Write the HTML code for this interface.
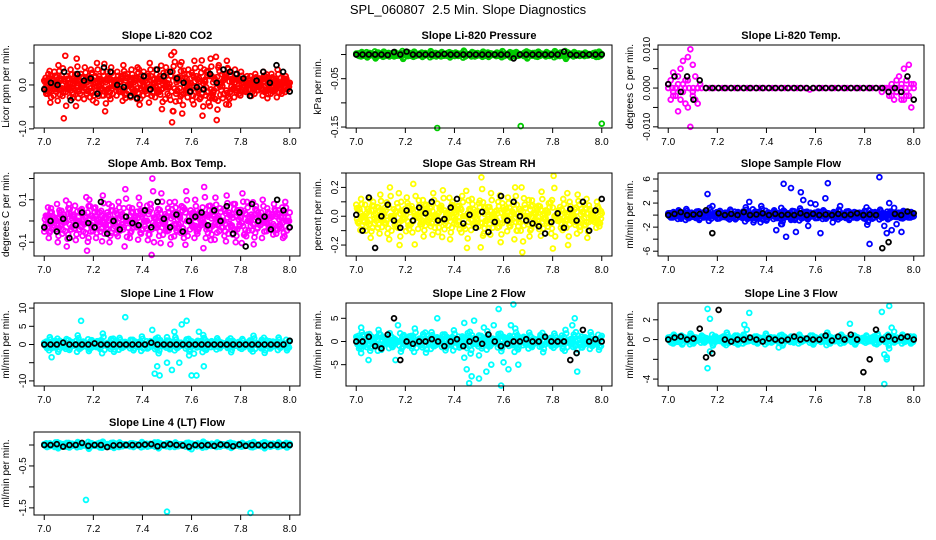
<!DOCTYPE html>
<html><head><meta charset="utf-8"><style>
body{margin:0;background:#fff}
svg{display:block;font-family:"Liberation Sans",sans-serif}
</style></head><body>
<svg id="c" width="936" height="540" viewBox="0 0 936 540">
<text x="468" y="14" text-anchor="middle" font-size="13" style="white-space:pre">SPL_060807  2.5 Min. Slope Diagnostics</text>
</svg>
<script>
// ---- data (main series evenly spaced over 7.0-8.0; extra = explicit x/y; black = evenly spaced) ----
const xTicks=[7.0,7.2,7.4,7.6,7.8,8.0];
const xTickLabels=["7.0","7.2","7.4","7.6","7.8","8.0"];
// CO2 (x0.01)
const co2Main=[10,-20,25,-40,5,30,-10,45,15,-25,95,20,-5,35,-30,10,60,-15,25,0,40,-20,15,35,-35,5,50,20,-10,30,-60,15,-25,40,10,-5,30,-15,20,45,-30,25,0,35,-20,15,40,-45,10,30,-10,25,50,-25,5,35,-15,20,-55,10,40,-5,30,-85,75,-20,15,45,-65,25,-10,35,5,-35,55,20,-15,40,-70,10,30,-40,60,-25,15,-80,45,5,-30,25,55,-45,20,-10,35,15,-20,30,5,-15,20,0,-25,10,25,-5,15,-10,30,20,-30,5,25,-15,10,35,0,-20,15,20,-10,5];
const co2Black=[-10,5,0,30,-35,25,10,15,-20,40,30,0,-5,-25,-30,20,-10,35,20,30,15,5,-15,-5,-10,25,5,35,30,25,15,-25,10,30,5,45,30,-15];
// Pressure (x0.001)
const presMain=[2,-3,5,0,-6,3,1,-8,4,-2,6,0,-4,2,5,-1,3,-9,1,4,-3,6,0,2,-5,3,-1,7,2,-4,0,5,-2,3,-6,1,4,-3,2,8,-1,0,5,-4,3,-2,6,1,-5,2,0,4,-3,7,-1,2,-6,3,5,-2,0,4,-8,1,3,-4,6,2,-1,5,-3,0,7,-2,4,1,-9,3,-1,5,2,-3,1,4,-2,0,3,-5,6,1];
const presExtraX=[7.33,7.67,8.0];
const presExtraY=[-152,-148,-143];
const presBlack=[0,0,0,0,0,-1,5,0,6,0,0,0,0,0,1,0,0,0,0,0,0,0,0,0,0,-8,0,0,0,0,0,0,0,6,0,-1,0,0,0,0];
// Temp (x0.001)
const tempMain=[0,0,0,0,0,0,0,0,0,0,0,0,0,0,0,0,0,0,0,0,0,0,0,0,0,0,0,0,0,0,0,0,0,0,-0.4,0,0,0,0,0,0,0,0,0,0,0,0,0,0,0,0,0,0,0,0,0,0,0,0,0];
const tempExtraX=[7.0,7.01,7.01,7.02,7.02,7.03,7.03,7.04,7.04,7.05,7.05,7.06,7.06,7.07,7.07,7.08,7.08,7.09,7.09,7.1,7.1,7.11,7.11,7.12,7.12,7.13,7.02,7.04,7.06,7.08,7.1,7.12,7.87,7.89,7.9,7.91,7.92,7.93,7.93,7.94,7.95,7.95,7.96,7.96,7.97,7.97,7.98,7.98,7.99,7.99,8.0,7.91,7.93,7.95,7.97];
const tempExtraY=[1,-3,2,-1,4,0,-2,3,-6,5,-3,1,7,-4,2,8,-5,10,-10,6,-2,-3,3,0,-4,1,-2,1,-1,2,-1,0,-1,0,-2,1,-3,2,-1,3,-2,1,-3,5,-1,2,-2,6,-5,1,1,-2,-1,-3,-2];
const tempBlack=[1,3,-1,3,-3,2,0,0,0,0,0,0,0,0,0,0,0,0,0,0,0,0,0,0,0,0,0,0,0,0,0,0,0,0,0,-1,0,-1,3,-3];
// Amb box temp (x0.01)
const ambMain=[-5,2,-8,6,-3,0,-10,4,-6,1,-12,8,-4,3,-9,0,5,-7,2,-14,10,-3,6,-8,1,-5,12,-2,4,-10,7,-1,-6,9,3,-4,15,0,-8,6,2,-3,11,-6,5,0,-9,8,20,-2,4,-7,13,1,-4,6,-11,3,9,-5,2,7,-8,14,0,5,-3,10,-6,4,1,16,-4,7,-9,3,11,-2,6,0,-7,12,4,-3,8,-10,5,2,13,-6,9,0,3,-11,7,4,-2,10,1,6,-4,3,8,-6,5,2,-8,9,0,4];
const ambBlack=[-3,0,-5,1,-8,-2,4,-1,-3,9,-6,0,-4,2,-1,-2,5,-3,9,1,-3,3,-5,0,2,4,-2,5,0,7,-6,4,-12,8,0,2,-4,10,5,-3];
// RH (x0.01)
const rhMain=[8,-5,12,0,-10,5,-15,10,2,-8,15,-3,6,-12,20,0,-6,9,-20,4,-2,13,-9,7,-28,1,11,-4,-14,8,3,-7,16,-1,-11,6,18,-5,2,-16,10,-3,7,-9,14,0,-22,5,12,-6,-2,9,27,-12,4,-8,16,1,-4,10,-18,6,-1,13,-7,3,20,-10,5,-25,8,0,-14,11,-3,6,-9,17,2,-5,9,-12,28,0,4,-8,12,-3,-20,7,1,-6,15,-10,3,8,-15,5,0,-4,10,-7,2];
const rhBlack=[1,-10,13,-22,0,8,-3,-8,4,-3,6,2,10,-3,-2,6,12,-5,1,-8,3,-11,-4,14,-3,10,0,-3,-5,-7,-12,-4,2,-8,5,-3,10,-10,4,12];
// Sample flow
const sfMain=[0.3,-0.4,0.5,-0.2,0.8,-0.6,0.1,1.0,-0.5,0.4,-0.3,0.6,-0.8,0.2,0.5,-0.4,1.2,-0.1,0.3,-0.6,0.7,-0.2,0.4,-0.5,0.9,0,-0.7,0.5,-0.3,0.6,1.3,-0.4,0.2,-1.2,0.5,-0.6,1.5,0.1,-0.9,0.4,-0.2,0.8,-0.5,0.3,-1.5,0.6,0,-0.4,0.7,-0.8,0.2,1.1,-0.3,0.5,-0.7,0.4,0.1,-0.5,0.6,-0.2,0.8,-0.6,0.3,-0.1,0.5,-0.4,0.9,0,-0.3,0.6,-0.8,0.2,0.5,-0.5,0.4,-0.2,0.7,-1.6,0.3,-0.6,0.5,-0.1,0.9,-0.4,0.2,-0.7,0.6,0,-0.3,0.4,-0.5,0.7,0.1,-0.4,0.5,-0.2];
const sfExtraX=[7.16,7.18,7.33,7.44,7.46,7.47,7.48,7.5,7.52,7.54,7.55,7.57,7.58,7.6,7.62,7.64,7.65,7.67,7.7,7.82,7.86,7.88,7.89,7.9,7.91,7.92,7.93,7.95,7.48,7.5];
const sfExtraY=[3.5,1.5,2.2,-2.5,-1.5,5.2,-3.6,4.5,-2.8,3.8,2.5,-1.8,2,1.8,-3,2.8,5.3,-1.2,1.5,-4.8,6.3,-1.8,-3,2,-2.5,1.2,-1.5,-2.8,-8.4,-0.8];
const sfBlack=[0,0.2,0.5,0,0.1,0.2,0.8,-3,0.3,0,0.2,0,0.5,0,0.1,0.3,0,0.2,0,0.1,0,0.3,0,0.2,0,0.1,0,0.2,0,0.1,0.3,0,0.1,0,-5.5,-4.5,0.2,0,0.6,0.3];
// Line 1 flow
const l1Main=[0.5,-1,2,-0.5,1,-2,0.3,-0.8,1.5,-1.5,0.6,-0.3,2.5,-1,0.8,0,-1.8,1.2,-0.4,0.9,-1.2,3,0.2,-0.6,1.5,-2,0.4,1.8,-0.9,0.7,-0.2,1.3,-1.6,0.5,-0.7,2.2,0,-1.1,0.9,-0.3,1.6,-2.4,0.6,-0.5,1.1,-1.3,0.3,2,-0.8,0.5,-0.1,1.4,-1.9,0.8,-0.4,1,-0.7,2.6,-1.5,0.2,0.9,-0.6,1.7,-1,0.4,-0.2,1.2,-2.1,0.7,0,-0.9,1.5,-0.3,0.6,-1.4,2.4,0.1,-0.5,1.3,-2.3,0.5,-1.1,0.8,-0.2,1.9,-0.6,0.3,-1.6,1];
const l1ExtraX=[7.03,7.15,7.33,7.44,7.45,7.46,7.47,7.48,7.5,7.52,7.53,7.55,7.56,7.58,7.59,7.6,7.61,7.62,7.63,7.64,7.65,7.5];
const l1ExtraY=[-3.5,6.5,7.5,4,-8,-6,-8.5,-11.5,2,-7,3.5,-5,5.5,6.5,-3,-8.5,-2.5,-8.5,3.5,12,-6,-5];
const l1Black=[0,0,0,0.5,0,0,0,0,0.3,0,0,0,0,0,0,0,0,0.5,0,0,0,0,0,0,0,0,0,0,0,0,0,0,0,0,0,0,0,0,0,1];
// Line 2 flow
const l2Main=[1,-1.5,2,-0.5,1.5,-2,0.5,-1,2.5,-1.8,0.8,-0.3,1.8,-1.2,0.4,0,-2.2,1.4,-0.6,1.1,-1.5,2.8,0.2,-0.8,1.6,-2.4,0.5,2,-1,0.9,-0.3,1.5,-1.9,0.6,-0.8,2.4,0,-1.3,1.1,-0.4,1.8,-2.6,0.7,-0.6,1.3,-1.5,0.3,2.2,-1,0.6,-0.2,1.6,-2.1,0.9,-0.5,1.2,-0.8,2.8,-1.7,0.3,1,-0.7,1.9,-1.2,0.5,-0.3,1.4,-2.3,0.8,0,-1,1.7,-0.4,0.7,-1.6,2.5,0.1,-0.6,1.5,-2.5,0.6,-1.3,0.9,-0.3,2,-0.7,0.4,-1.8,1.2];
const l2ExtraX=[7.02,7.02,7.05,7.16,7.17,7.33,7.44,7.45,7.46,7.47,7.48,7.5,7.52,7.53,7.56,7.58,7.59,7.6,7.62,7.63,7.64,7.66,7.88,7.89,7.9,7.44,7.5,7.55];
const l2ExtraY=[3,-2.5,-4,-4,3.5,5,4,-6,-9,-7.5,4.5,-8,3,-6.5,3.5,7,-9.5,-4.5,-6,3.5,8,-5,3.5,5,-6.5,-3.5,-3,-5];
const l2Black=[0,0,1,-1,-1.5,1.5,5,-4,0,-0.5,0,0,0.5,0,-1,0,0.5,-1,0,0.5,-0.5,1.5,0,-1,-0.5,0,0,0.5,0,0,1,0,0,0,-4,-2.5,2.5,0,0.5,0];
// Line 3 flow
const l3Main=[0.2,-0.3,0.5,-0.1,0.3,-0.5,0.1,-0.2,0.6,-0.4,0.2,0,0.4,-0.3,0.1,0,-0.6,0.3,-0.1,0.2,-0.4,0.7,0.1,-0.2,0.4,-0.5,0.1,0.5,-0.2,0.2,0,0.3,-0.4,0.1,-0.2,0.6,0,-0.3,0.2,-0.1,0.4,-0.6,0.2,-0.1,0.3,-0.3,0.1,0.5,-0.2,0.1,0,0.4,-0.5,0.2,-0.1,0.3,-0.2,0.7,-0.4,0.1,0.2,-0.2,0.5,-0.3,0.1,0,0.3,-0.5,0.2,0,-0.2,0.4,-0.1,0.2,-0.4,0.6,0,-0.1,0.3,-0.6,0.1,-0.3,0.2,-0.1,0.5,-0.2,0.1,-0.4,0.3];
const l3ExtraX=[7.16,7.17,7.16,7.17,7.31,7.33,7.32,7.45,7.74,7.87,7.88,7.88,7.89,7.9,7.91,7.89,7.92,7.9];
const l3ExtraY=[3.1,2.1,-2.9,-1.2,1.5,2.7,1,-0.8,1.6,2.8,-4.5,-1.5,-2,3.4,1.2,-1.8,0.8,-0.9];
const l3Black=[0,0.2,0.3,0,0.1,1.1,-1.8,-1.4,3,0,-0.2,0,0,0.2,0,-0.2,0.1,0,-0.1,0,0.3,0,0.1,0,0,0.4,-0.1,0.3,0,0.5,0,-3.3,-2,1,0,0.3,0,0.2,0.3,0];
// Line 4 flow (x0.01)
const l4Main=[2,-5,4,-2,6,-8,1,-3,5,-6,3,0,7,-4,2,-1,-9,4,-2,3,-6,8,0,-3,5,-7,2,6,-3,2,-1,4,-5,1,-2,7,0,-4,3,-1,5,-8,2,-2,4,-5,1,6,-3,2,-1,5,-7,3,-2,4,-3,8,-5,1,3,-2,6,-4,2,-1,4,-7,3,0,-3,5,-1,2,-5,7,0,-2,4,-8,2,-4,3,-1,6,-2,1,-6,3];
const l4ExtraX=[7.17,7.5,7.84,7.45,7.6,7.9];
const l4ExtraY=[-131,-159,-162,6,-10,6];
const l4Black=[0,0,2,-4,0,0,5,-2,0,0,-5,-1,0,0,0,0,1,2,-3,0,2,0,-1,-4,0,-1,0,-2,1,0,-3,1,-2,0,0,-1,0,0,0,0];

const panels=[
 {t:"Slope Li-820 CO2",yl:"Licor ppm per min.",c:"#ff0000",col:0,row:0,ymin:-0.98,ymax:0.91,ticks:[-1,-0.5,0,0.5],tl:["-1.0","","0.0",""],main:co2Main,ex:[],ey:[],blk:co2Black,s:0.01},
 {t:"Slope Li-820 Pressure",yl:"kPa per min.",c:"#00cc00",col:1,row:0,ymin:-0.152,ymax:0.0197,ticks:[-0.15,-0.1,-0.05,0],tl:["-0.15","","-0.05",""],main:presMain,ex:presExtraX,ey:presExtraY,blk:presBlack,s:0.001},
 {t:"Slope Li-820 Temp.",yl:"degrees C per min.",c:"#ff00ff",col:2,row:0,ymin:-0.0103,ymax:0.0111,ticks:[-0.01,-0.005,0,0.005,0.01],tl:["-0.010","","0.000","","0.010"],main:tempMain,ex:tempExtraX,ey:tempExtraY,blk:tempBlack,s:0.001},
 {t:"Slope Amb. Box Temp.",yl:"degrees C per min.",c:"#ff00ff",col:0,row:1,ymin:-0.165,ymax:0.226,ticks:[-0.1,0,0.1,0.2],tl:["-0.1","","0.1",""],main:ambMain,ex:[],ey:[],blk:ambBlack,s:0.01},
 {t:"Slope Gas Stream RH",yl:"percent per min.",c:"#ffff00",col:1,row:1,ymin:-0.276,ymax:0.30,ticks:[-0.2,-0.1,0,0.1,0.2,0.3],tl:["-0.2","","0.0","","0.2",""],main:rhMain,ex:[],ey:[],blk:rhBlack,s:0.01},
 {t:"Slope Sample Flow",yl:"ml/min per min.",c:"#0000ff",col:2,row:1,ymin:-6.8,ymax:7,ticks:[-6,-4,-2,0,2,4,6],tl:["-6","","-2","","2","","6"],main:sfMain,ex:sfExtraX,ey:sfExtraY,blk:sfBlack,s:1},
 {t:"Slope Line 1 Flow",yl:"ml/min per min.",c:"#00ffff",col:0,row:2,ymin:-11.4,ymax:11.4,ticks:[-10,-5,0,5,10],tl:["-10","","0","5","10"],main:l1Main,ex:l1ExtraX,ey:l1ExtraY,blk:l1Black,s:1},
 {t:"Slope Line 2 Flow",yl:"ml/min per min.",c:"#00ffff",col:1,row:2,ymin:-9.6,ymax:8.3,ticks:[-5,0,5],tl:["-5","0","5"],main:l2Main,ex:l2ExtraX,ey:l2ExtraY,blk:l2Black,s:1},
 {t:"Slope Line 3 Flow",yl:"ml/min per min.",c:"#00ffff",col:2,row:2,ymin:-4.7,ymax:3.7,ticks:[-4,-2,0,2],tl:["-4","","0","2"],main:l3Main,ex:l3ExtraX,ey:l3ExtraY,blk:l3Black,s:1},
 {t:"Slope Line 4 (LT) Flow",yl:"ml/min per min.",c:"#00ffff",col:0,row:3,ymin:-1.67,ymax:0.31,ticks:[-1.5,-1,-0.5,0],tl:["-1.5","","-0.5",""],main:l4Main,ex:l4ExtraX,ey:l4ExtraY,blk:l4Black,s:0.01}
];
const colL=[34,346,658], colR=[300,612,924], rowT=[45,173,303,432], H=83;
const NS="http://www.w3.org/2000/svg";
const svg=document.getElementById('c');
function mk(tag,attrs,parent){const e=document.createElementNS(NS,tag);for(const k in attrs)e.setAttribute(k,attrs[k]);(parent||svg).appendChild(e);return e;}
const slug=s=>s.toLowerCase().replace(/[^a-z0-9]+/g,'-').replace(/^-|-$/g,'');
panels.forEach(p=>{
 const L=colL[p.col],R=colR[p.col],T=rowT[p.row],B=T+H;
 const x0=L+(R-L)*0.0385, x1=R-(R-L)*0.0385;
 const X=v=>x0+(v-7)*(x1-x0);
 const Y=v=>B-(v-p.ymin)/(p.ymax-p.ymin)*H;
 const g=mk('g',{});
 
 
 const tt=mk('text',{x:(L+R)/2,y:T-6,'text-anchor':'middle','font-size':11,'font-weight':'bold'},g);tt.textContent=p.t;
 
 
 const yl=mk('text',{transform:`translate(${L-25},${(T+B)/2}) rotate(-90)`,'text-anchor':'middle','font-size':10},g);yl.textContent=p.yl;
 
 
 const pts=mk('g',{fill:'none','stroke-width':1.8},g);
 
 
 const dot=(xv,yv,col)=>{const cy=Y(yv);if(cy<T||cy>B)return;const c=mk('circle',{cx:X(xv),cy:cy,r:2.4,stroke:col},pts);
  
  };
 const passes=p.main===tempMain?[[0,1]]:[[0,1],[0.003,0.7],[-0.003,-0.8],[0.0065,-0.5],[-0.0065,0.4]];
 passes.forEach(([off,m])=>{p.main.forEach((v,i)=>{const xv=7+i/(p.main.length-1)+off;if(xv<7||xv>8)return;dot(xv,v*p.s*m,p.c);});});
 p.ex.forEach((xv,i)=>dot(xv,p.ey[i]*p.s,p.c));
 p.blk.forEach((v,i)=>dot(7+i/(p.blk.length-1),v*p.s,'#000'));
 mk('rect',{x:L,y:T,width:R-L,height:H,fill:'none',stroke:'#000','stroke-width':1},g);
 xTicks.forEach((v,i)=>{mk('line',{x1:X(v),x2:X(v),y1:B,y2:B+5,stroke:'#000'},g);
  const t=mk('text',{x:X(v),y:B+17,'text-anchor':'middle','font-size':10},g);t.textContent=xTickLabels[i];
  
  });
 mk('line',{x1:X(7),x2:X(8),y1:B,y2:B,stroke:'#000'},g);
 p.ticks.forEach((v,i)=>{const y=Y(v);mk('line',{x1:L-5,x2:L,y1:y,y2:y,stroke:'#000'},g);
  if(p.tl[i]){const t=mk('text',{transform:`translate(${L-8},${y}) rotate(-90)`,'text-anchor':'middle','font-size':10},g);t.textContent=p.tl[i];
  
  }});
});
</script>
</body></html>
